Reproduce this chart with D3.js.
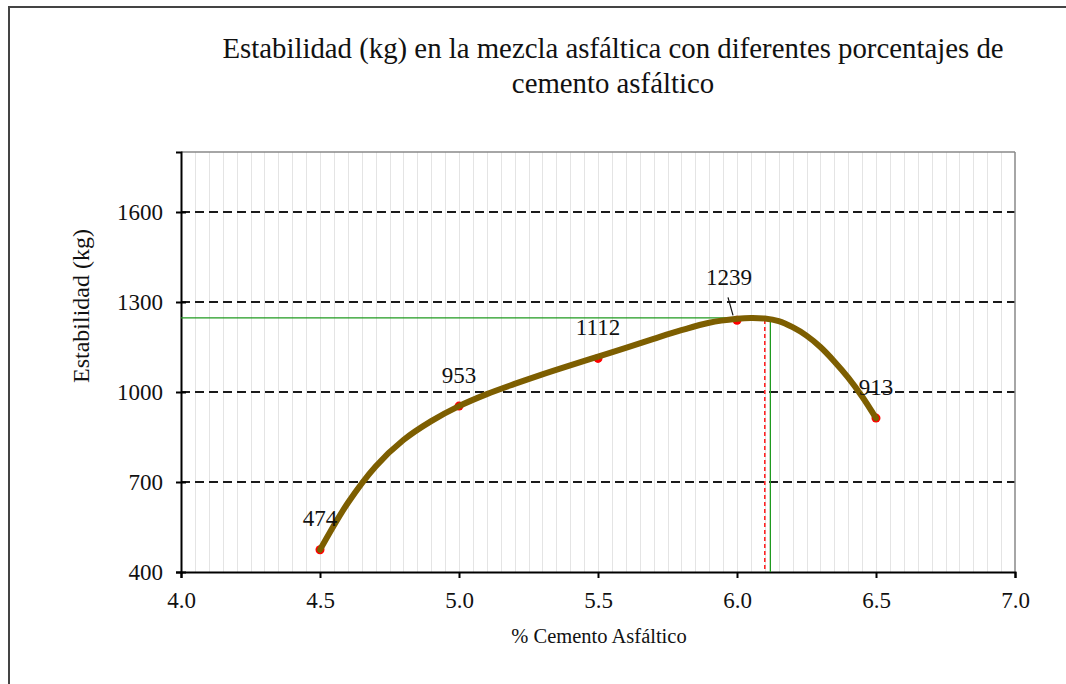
<!DOCTYPE html>
<html>
<head>
<meta charset="utf-8">
<script src="https://cdn.jsdelivr.net/npm/d3@7"></script>
<style>
  html, body { margin: 0; padding: 0; background: #fff; }
  svg { display: block; }
  text { font-family: "Liberation Serif", "Times New Roman", serif; fill: #111; }
</style>
</head>
<body>
<svg id="chart" width="1066" height="684"></svg>
<script>
// ---- data ----
const pctCA = [4.5, 5.0, 5.5, 6.0, 6.5];
const estabilidad = [474, 953, 1112, 1239, 913];
// smoothed curve
const curvePct = [4.50, 4.60, 4.70, 4.80, 4.90, 5.00, 5.10, 5.20, 5.30, 5.40, 5.50, 5.60, 5.70, 5.80, 5.90, 6.00, 6.05, 6.10, 6.15, 6.20, 6.25, 6.30, 6.35, 6.40, 6.45, 6.50];
const curveVal = [474, 630, 752, 840, 903, 953, 993, 1027, 1059, 1089, 1118, 1147, 1177, 1206, 1231, 1244, 1247, 1245, 1236, 1216, 1188, 1150, 1102, 1048, 985, 913];
const xTicks = [4.0, 4.5, 5.0, 5.5, 6.0, 6.5, 7.0];
const yTicks = [400, 700, 1000, 1300, 1600];
const gridY = [700, 1000, 1300, 1600];
const optimoPct = 6.12;      // green guide
const optimoEstab = 1247;
const redPct = 6.10;         // red dashed guide
const titleLines = ["Estabilidad (kg) en la mezcla asfáltica con diferentes porcentajes de", "cemento asfáltico"];
const xTitle = "% Cemento Asfáltico";
const yTitle = "Estabilidad (kg)";

const svg = d3.select("#chart");
const L = 181, R = 1015, T = 152, B = 572;
const x = d3.scaleLinear().domain([4, 7]).range([L, R]);
const y = d3.scaleLinear().domain([400, 1800]).range([B, T]);
const SERIF = "'Liberation Serif', 'Times New Roman', serif";

// outer frame
svg.append("rect").attr("x", 9).attr("y", 7).attr("width", 1100).attr("height", 700)
  .attr("fill", "none").attr("stroke", "#444").attr("stroke-width", 2);

// title
svg.append("text").attr("x", 613).attr("y", 58).attr("text-anchor", "middle")
  .style("font-size", "28.8px").text(titleLines[0]);
svg.append("text").attr("x", 613).attr("y", 93).attr("text-anchor", "middle")
  .style("font-size", "28.8px").text(titleLines[1]);

// minor vertical gridlines
const minor = d3.range(1, 60).map(i => 4 + i * 0.05);
svg.append("g").selectAll("line").data(minor).join("line")
  .attr("x1", d => Math.round(x(d)) + 0.5).attr("x2", d => Math.round(x(d)) + 0.5)
  .attr("y1", T).attr("y2", B)
  .attr("stroke", "#e4e4e4").attr("stroke-width", 1);

// dashed horizontal gridlines
svg.append("g").selectAll("line").data(gridY).join("line")
  .attr("x1", L).attr("x2", R).attr("y1", d => y(d)).attr("y2", d => y(d))
  .attr("stroke", "#1a1a1a").attr("stroke-width", 2).attr("stroke-dasharray", "9,5");

// top/right borders
svg.append("line").attr("x1", L).attr("x2", R).attr("y1", T).attr("y2", T).attr("stroke", "#888").attr("stroke-width", 1.5);
svg.append("line").attr("x1", R).attr("x2", R).attr("y1", T).attr("y2", B).attr("stroke", "#888").attr("stroke-width", 1.5);

// axes
const yAxis = d3.axisLeft(y).tickValues(yTicks).tickSize(5).tickPadding(13).tickFormat(d3.format("d"));
const gy = svg.append("g").attr("transform", `translate(${L},0)`).call(yAxis).attr("font-family", SERIF);
gy.select(".domain").attr("stroke", "#000").attr("stroke-width", 2);
gy.selectAll(".tick line").attr("stroke", "#000").attr("stroke-width", 2).attr("x1", 5);
gy.selectAll(".tick text").style("font-size", "23px").attr("fill", "#111");

const xAxis = d3.axisBottom(x).tickValues(xTicks).tickSize(6).tickPadding(14).tickFormat(d3.format(".1f"));
const gx = svg.append("g").attr("transform", `translate(0,${B})`).call(xAxis).attr("font-family", SERIF);
gx.select(".domain").attr("stroke", "#000").attr("stroke-width", 2);
gx.selectAll(".tick line").attr("stroke", "#000").attr("stroke-width", 2);
gx.selectAll(".tick text").style("font-size", "23px").attr("fill", "#111");

// axis titles
svg.append("text").attr("x", 599).attr("y", 643).attr("text-anchor", "middle")
  .style("font-size", "20.5px").text(xTitle);
svg.append("text").attr("transform", "translate(89,306) rotate(-90)").attr("text-anchor", "middle")
  .style("font-size", "24px").text(yTitle);

// guides
svg.append("line").attr("x1", L).attr("x2", x(optimoPct)).attr("y1", y(optimoEstab)).attr("y2", y(optimoEstab))
  .attr("stroke", "#1f9a1f").attr("stroke-width", 1.3);
svg.append("line").attr("x1", x(optimoPct)).attr("x2", x(optimoPct)).attr("y1", y(optimoEstab)).attr("y2", B)
  .attr("stroke", "#1f9a1f").attr("stroke-width", 1.3);
svg.append("line").attr("x1", x(redPct)).attr("x2", x(redPct)).attr("y1", y(optimoEstab) + 2).attr("y2", B)
  .attr("stroke", "#ff1a1a").attr("stroke-width", 1.5).attr("stroke-dasharray", "4,3");

// points
const pts = pctCA.map((p, i) => ({ p, v: estabilidad[i] }));
svg.append("g").selectAll("circle").data(pts).join("circle")
  .attr("cx", d => x(d.p)).attr("cy", d => y(d.v)).attr("r", 4.5).attr("fill", "#ff0000");

// curve
const curve = curvePct.map((p, i) => [x(p), y(curveVal[i])]);
svg.append("path").attr("d", d3.line().curve(d3.curveCatmullRom.alpha(0.5))(curve))
  .attr("fill", "none").attr("stroke", "#7d5e00").attr("stroke-width", 6).attr("stroke-linecap", "round");

// labels
const labelDx = [0, 0, 0, -8, 0];
const labelDy = [-24, -23, -23, -35, -23];
svg.append("g").selectAll("text").data(pts).join("text")
  .attr("x", (d, i) => x(d.p) + labelDx[i]).attr("y", (d, i) => y(d.v) + labelDy[i])
  .attr("text-anchor", "middle").style("font-size", "23px").text(d => d.v);
// leader line for 1239
svg.append("line").attr("x1", x(6.0) - 9).attr("y1", y(1239) - 23).attr("x2", x(6.0) - 4).attr("y2", y(1239) - 5)
  .attr("stroke", "#111").attr("stroke-width", 1.2);
</script>
</body>
</html>
